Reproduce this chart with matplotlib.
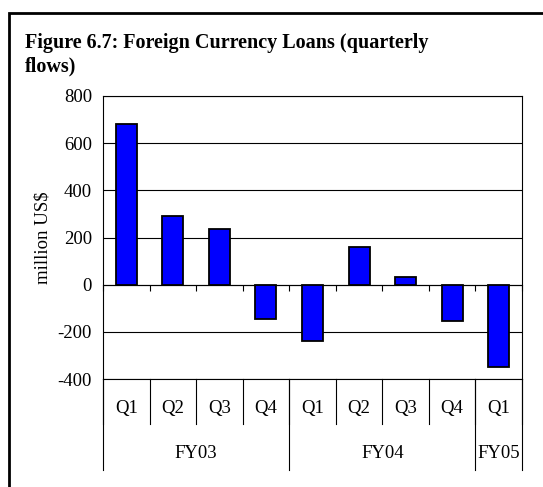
import matplotlib
matplotlib.use("Agg")
import matplotlib.pyplot as plt
from matplotlib.lines import Line2D
from matplotlib.patches import Rectangle

quarters = ["Q1", "Q2", "Q3", "Q4", "Q1", "Q2", "Q3", "Q4", "Q1"]
years = ["FY03", "FY04", "FY05"]
year_sizes = [4, 4, 1]
flows = [683, 290, 235, -145, -240, 160, 33, -152, -350]

plt.rcParams['font.family'] = ['Liberation Serif', 'DejaVu Serif']
plt.rcParams['axes.unicode_minus'] = False

fig = plt.figure(figsize=(5.43, 4.87), dpi=100)
ax = fig.add_axes([103/543, 1-379/487, 419/543, 283/487])

x = list(range(len(flows)))
ax.bar(x, flows, width=0.45, color='#0000FF', edgecolor='black', linewidth=1.3, zorder=3)

ax.set_xlim(-0.5, len(flows) - 0.5)
ax.set_ylim(-400, 800)
ax.set_yticks(range(-400, 801, 200))
ax.tick_params(axis='y', length=0, labelsize=13.5, pad=8)
ax.grid(axis='y', color='black', linewidth=0.8, zorder=0)
ax.axhline(-400, color='black', linewidth=0.8, clip_on=False)
ax.set_ylabel('million US$', fontsize=13.5, labelpad=4)

# category axis sits on zero line
ax.spines['bottom'].set_position(('data', 0))
ax.spines['bottom'].set_linewidth(0.8)
for s in ['left', 'right', 'top']:
    ax.spines[s].set_linewidth(0.8)
ax.set_xticks([i - 0.5 for i in range(len(flows) + 1)])
ax.set_xticklabels([])
ax.tick_params(axis='x', direction='out', length=4, width=0.8)

# multi-level category labels below the plot
tr = ax.get_xaxis_transform()
q_bottom, y_bottom = -0.159, -0.322
for i, q in enumerate(quarters):
    ax.text(i, -0.106, q, transform=tr, ha='center', va='center', fontsize=13.5)
for i in range(len(flows) + 1):
    ax.add_line(Line2D([i - 0.5, i - 0.5], [0, q_bottom], transform=tr,
                       color='black', linewidth=0.8, clip_on=False))
start = 0
bounds = [0]
for name, n in zip(years, year_sizes):
    ax.text(start + n / 2 - 0.5, -0.265, name, transform=tr, ha='center', va='center', fontsize=13.5)
    start += n
    bounds.append(start)
for b in bounds:
    ax.add_line(Line2D([b - 0.5, b - 0.5], [0, y_bottom], transform=tr,
                       color='black', linewidth=0.8, clip_on=False))

fig.text(25/543, 1-43/487, 'Figure 6.7: Foreign Currency Loans (quarterly', fontsize=14.5,
         fontweight='bold', va='center', ha='left')
fig.text(25/543, 1-66/487, 'flows)', fontsize=14.5, fontweight='bold', va='center', ha='left')

fig.patches.append(Rectangle((9/543, -0.05), 1.1, 1 - 13/487 + 0.05, transform=fig.transFigure,
                             fill=False, edgecolor='black', linewidth=2))

fig.savefig('out.png', dpi=100)
